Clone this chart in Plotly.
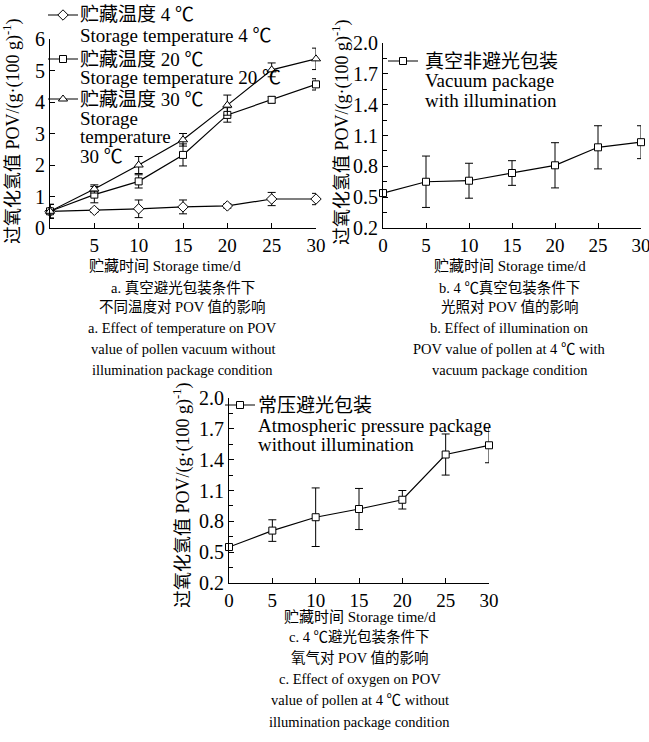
import plotly.graph_objects as go

W, H = 649, 742

# ---------------- data ----------------
days = [0, 5, 10, 15, 20, 25, 30]

temp4 = [0.53, 0.56, 0.61, 0.67, 0.70, 0.92, 0.92]
temp4_err = [0.22, 0.06, 0.28, 0.22, 0.07, 0.21, 0.18]
temp20 = [0.53, 1.06, 1.48, 2.32, 3.59, 4.07, 4.56]
temp20_err = [0.22, 0.26, 0.21, 0.35, 0.23, 0.10, 0.18]
temp30 = [0.53, 1.24, 2.00, 2.80, 3.90, 5.02, 5.37]
temp30_err = [0.22, 0.13, 0.27, 0.20, 0.32, 0.22, 0.34]

vac_light = [0.54, 0.65, 0.66, 0.735, 0.81, 0.985, 1.035]
vac_light_err = [0.0, 0.25, 0.17, 0.12, 0.22, 0.21, 0.16]

atm_dark = [0.55, 0.71, 0.84, 0.92, 1.01, 1.45, 1.54]
atm_dark_err = [0.0, 0.105, 0.285, 0.20, 0.09, 0.20, 0.17]

ticks_a_x = [5, 10, 15, 20, 25, 30]
ticks_bc_x = [0, 5, 10, 15, 20, 25, 30]
ticks_a_y = [0, 1, 2, 3, 4, 5, 6]
ticks_bc_y = [0.2, 0.5, 0.8, 1.1, 1.4, 1.7, 2.0]

legend_a_lines = [["贮藏温度 4 ℃", "Storage temperature 4 ℃"],
                  ["贮藏温度 20 ℃", "Storage temperature 20 ℃"],
                  ["贮藏温度 30 ℃", "Storage", "temperature", "30 ℃"]]
legend_b_lines = ["真空非避光包装", "Vacuum package", "with illumination"]
legend_c_lines = ["常压避光包装", "Atmospheric pressure package", "without illumination"]

ytitle = "过氧化氢值 POV/(g·(100 g)<sup>-1</sup>)"
xtitle = "贮藏时间 Storage time/d"
cap_a = ["a. 真空避光包装条件下", "不同温度对 POV 值的影响",
         "a. Effect of temperature on POV", "value of pollen vacuum without",
         "illumination package condition"]
cap_b = ["b. 4 ℃真空包装条件下", "光照对 POV 值的影响",
         "b. Effect of illumination on", "POV value of pollen at 4 ℃ with",
         "vacuum package condition"]
cap_c = ["c. 4 ℃避光包装条件下", "氧气对 POV 值的影响",
         "c. Effect of oxygen on POV", "value of pollen at 4 ℃ without",
         "illumination package condition"]

FONT = "Liberation Serif, Times New Roman, Noto Sans CJK SC, serif"


def px(x):
    return x / W


def py(y):
    return 1 - y / H


fig = go.Figure()


def err(arr):
    return dict(type="data", array=arr, visible=True, color="black", thickness=1, width=4)


def add(y, e, sym, xa, ya, leg, size):
    fig.add_trace(go.Scatter(
        x=days, y=y, mode="lines+markers", name=" ",
        line=dict(color="black", width=1.2),
        marker=dict(symbol=sym, size=size, color="white", line=dict(color="black", width=1)),
        error_y=err(e), xaxis=xa, yaxis=ya, legend=leg, cliponaxis=False))


add(temp4, temp4_err, "diamond", "x", "y", "legend", 8)
add(temp20, temp20_err, "square", "x", "y", "legend2", 7)
add(temp30, temp30_err, "triangle-up", "x", "y", "legend3", 8)
add(vac_light, vac_light_err, "square", "x2", "y2", "legend4", 7)
add(atm_dark, atm_dark_err, "square", "x3", "y3", "legend5", 7)

axis_common = dict(showline=True, linecolor="black", linewidth=1, ticks="inside",
                   ticklen=5, tickcolor="black", showgrid=False, zeroline=False,
                   mirror=False, ticklabeloverflow="allow")
xcommon = dict(tickfont=dict(family=FONT, size=19, color="black"), **axis_common)
ycommon = dict(tickfont=dict(family=FONT, size=20, color="black"), **axis_common)

# panel domains (pixels)
A = dict(x0=50, x1=316, y0=39, y1=228)
B = dict(x0=383, x1=641, y0=43, y1=228)
C = dict(x0=229, x1=489, y0=398, y1=583)


def dom(P):
    return [px(P["x0"]), px(P["x1"])], [py(P["y1"]), py(P["y0"])]


dxa, dya = dom(A)
dxb, dyb = dom(B)
dxc, dyc = dom(C)

minor_bc = dict(ticks="inside", ticklen=4, tickcolor="black", tick0=0.35, dtick=0.3, showgrid=False)

fig.update_layout(
    xaxis=dict(domain=dxa, anchor="y", range=[0, 30], tickvals=ticks_a_x, **xcommon),
    yaxis=dict(domain=dya, anchor="x", range=[0, 6], tickvals=ticks_a_y, **ycommon),
    xaxis2=dict(domain=dxb, anchor="y2", range=[0, 30], tickvals=ticks_bc_x, **xcommon),
    yaxis2=dict(domain=dyb, anchor="x2", range=[0.2, 2.0], tickvals=ticks_bc_y, tickformat=".1f",
                minor=minor_bc, **ycommon),
    xaxis3=dict(domain=dxc, anchor="y3", range=[0, 30], tickvals=ticks_bc_x, **xcommon),
    yaxis3=dict(domain=dyc, anchor="x3", range=[0.2, 2.0], tickvals=ticks_bc_y, tickformat=".1f",
                minor=minor_bc, **ycommon),
)

leg_common = dict(bgcolor="rgba(0,0,0,0)", borderwidth=0, xanchor="left", yanchor="middle",
                  itemwidth=30, font=dict(family=FONT, size=10, color="black"))
fig.update_layout(
    legend=dict(x=px(43), y=py(15), **leg_common),
    legend2=dict(x=px(43), y=py(59), **leg_common),
    legend3=dict(x=px(43), y=py(99), **leg_common),
    legend4=dict(x=px(383), y=py(61), **leg_common),
    legend5=dict(x=px(220), y=py(405), **leg_common),
)

annots = []


def txt(x, y, t, size, anchor="center", angle=0):
    annots.append(dict(x=px(x), y=py(y), xref="paper", yref="paper", text=t,
                       textangle=angle, showarrow=False, xanchor=anchor, yanchor="middle",
                       font=dict(family=FONT, size=size, color="black")))


# legend texts
LEGF = 19
for lines, ys in zip(legend_a_lines, [[15, 36], [59, 78], [99, 118, 137, 156]]):
    for t, yy in zip(lines, ys):
        txt(78, yy, t, LEGF, "left")
for t, yy in zip(legend_b_lines, [61, 81, 100]):
    txt(423, yy, t, LEGF, "left")
for t, yy in zip(legend_c_lines, [405, 425, 444]):
    txt(256, yy, t, LEGF, "left")

# y-axis titles
for xc, yc in [(12, 131), (341, 132), (182, 495)]:
    txt(xc, yc, ytitle, 18, "center", -90)

# x titles and captions
for xc, ys, caps in [(165, [266, 287, 307, 328, 349, 370], cap_a),
                     (510, [266, 287, 307, 328, 349, 370], cap_b),
                     (360, [617, 637, 658, 679, 700, 722], cap_c)]:
    txt(xc, ys[0], xtitle, 15)
    for t, yy in zip(caps, ys[1:]):
        txt(xc + (18 if xc == 165 else 0), yy, t, 14.5)

fig.update_layout(
    width=W, height=H, margin=dict(l=0, r=0, t=0, b=0, autoexpand=False),
    paper_bgcolor="white", plot_bgcolor="white",
    showlegend=True, annotations=annots,
    font=dict(family=FONT, size=17, color="black"),
)

fig.write_html("out.html", config={"displayModeBar": False},
               post_script="document.body.style.margin='0';document.body.style.overflow='hidden';")
